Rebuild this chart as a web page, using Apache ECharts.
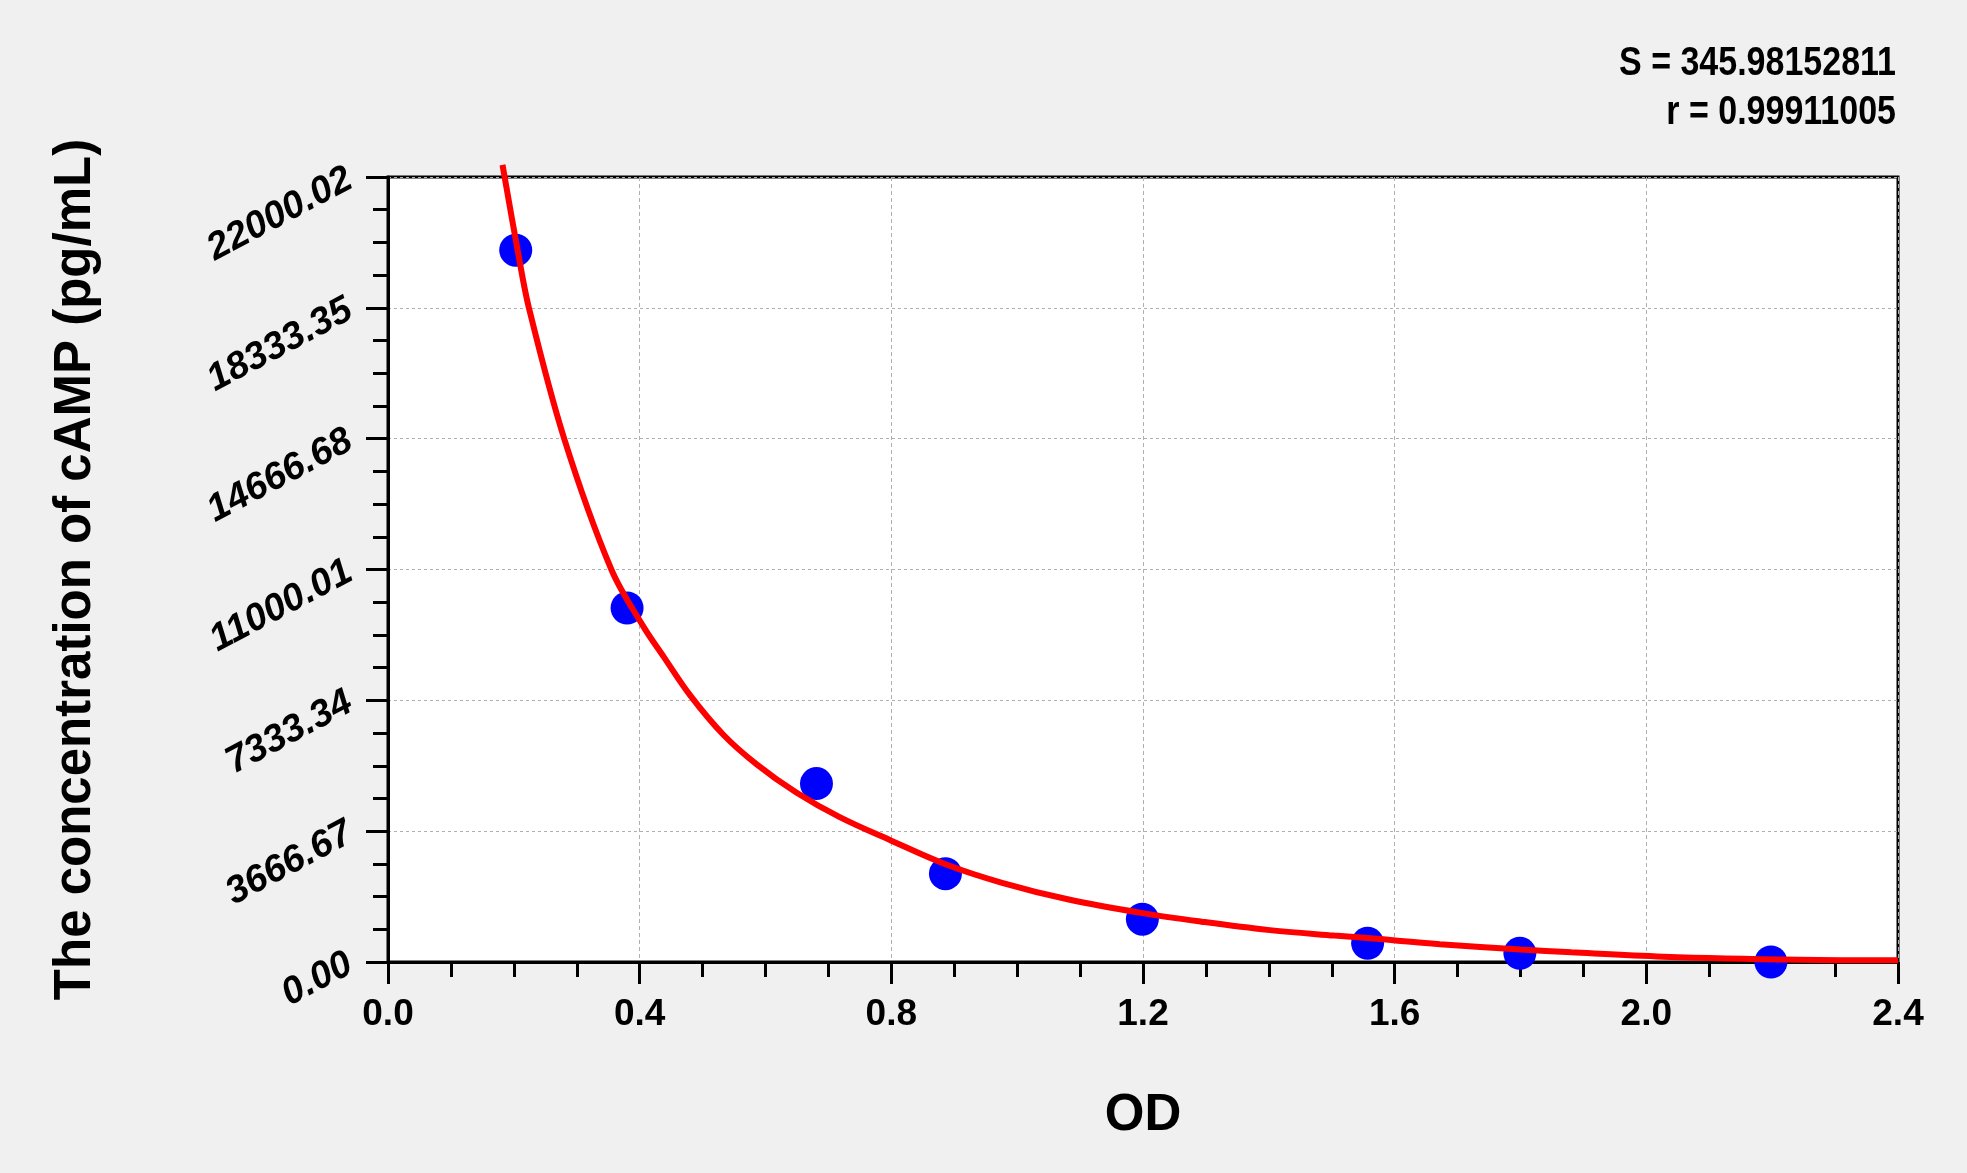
<!DOCTYPE html>
<html>
<head>
<meta charset="utf-8">
<title>cAMP standard curve</title>
<script src="https://cdn.jsdelivr.net/npm/echarts@6/dist/echarts.min.js"></script>
<style>
    html, body { margin: 0; padding: 0; background: #f0f0f0; }
    #chart { width: 1967px; height: 1173px; }
</style>
</head>
<body>
<div id="chart"></div>
<script>
// standards (OD, pg/mL)
const stdOD = [0.203, 0.38, 0.681, 0.886, 1.199, 1.557, 1.799, 2.198]
const stdConc = [19950, 9920, 5000, 2476, 1200, 524, 244, 0]

// fitted curve, sampled along the red line
const fitOD = [0.182, 0.206, 0.224, 0.28, 0.355, 0.406, 0.438, 0.48, 0.533, 0.586, 0.649, 0.718, 0.8, 0.886, 0.976, 1.082, 1.199, 1.293, 1.398, 1.504, 1.557, 1.672, 1.8, 1.881, 2.027, 2.243, 2.4]
const fitConc = [22340, 19950, 18330, 14670, 11000, 9400, 8560, 7480, 6370, 5540, 4750, 4060, 3400, 2740, 2220, 1750, 1370, 1130, 900, 740, 670, 500, 350, 270, 150, 65, 50]

const yTicks = ['0.00', '3666.67', '7333.34', '11000.01', '14666.68', '18333.35', '22000.02']
const xTicks = ['0.0', '0.4', '0.8', '1.2', '1.6', '2.0', '2.4']
const statS = 'S = 345.98152811'
const statR = 'r = 0.99911005'

const font = 'Liberation Sans, Arial, sans-serif'
const yStep = 3666.67

const chart = echarts.init(document.getElementById('chart'))

const option = {
    backgroundColor: '#f0f0f0',
    animation: false,
    grid: {
        left: 388,
        right: 69,
        top: 177,
        bottom: 211,
        show: true,
        backgroundColor: '#ffffff',
        borderColor: '#000000',
        borderWidth: 3,
    },
    xAxis: {
        type: 'value',
        min: 0,
        max: 2.4,
        interval: 0.4,
        name: 'OD',
        nameLocation: 'middle',
        nameGap: 128,
        nameTextStyle: { fontFamily: font, fontWeight: 'bold', fontSize: 51, color: '#000' },
        axisLine: { show: true, lineStyle: { color: '#000', width: 3 } },
        axisTick: { show: true, inside: false, length: 22, lineStyle: { color: '#000', width: 3 } },
        minorTick: { show: true, splitNumber: 4, length: 15, lineStyle: { color: '#000', width: 3 } },
        axisLabel: {
            margin: 34,
            fontFamily: font,
            fontWeight: 'bold',
            fontSize: 37,
            color: '#000',
            formatter: (v) => xTicks[Math.round(v / 0.4)] || v.toFixed(1),
        },
        splitLine: { show: true, lineStyle: { color: '#b0b0b0', width: 1, type: [4, 3] } },
    },
    yAxis: {
        type: 'value',
        min: 0,
        max: 22000.02,
        interval: yStep,
        name: 'The concentration of cAMP (pg/mL)',
        nameLocation: 'middle',
        nameGap: 287,
        nameRotate: 90,
        nameTextStyle: { fontFamily: font, fontWeight: 'bold', fontSize: 51, color: '#000' },
        axisLine: { show: true, lineStyle: { color: '#000', width: 3 } },
        axisTick: { show: true, inside: false, length: 22, lineStyle: { color: '#000', width: 3 } },
        minorTick: { show: true, splitNumber: 4, length: 15, lineStyle: { color: '#000', width: 3 } },
        axisLabel: {
            margin: 38,
            rotate: 28,
            fontFamily: font,
            fontWeight: 'bold',
            fontStyle: 'italic',
            fontSize: 38,
            color: '#000',
            formatter: (v) => yTicks[Math.round(v / yStep)] || v.toFixed(2),
        },
        splitLine: { show: true, lineStyle: { color: '#b0b0b0', width: 1, type: [3, 3] } },
    },
    // fit statistics, right-aligned over the plot, a bit condensed like the original
    graphic: [
        {
            type: 'text',
            x: 1896,
            y: 64,
            scaleX: 0.85,
            style: { text: statS, align: 'right', verticalAlign: 'middle', fontFamily: font, fontWeight: 'bold', fontSize: 40, fill: '#000' },
        },
        {
            type: 'text',
            x: 1896,
            y: 113,
            scaleX: 0.85,
            style: { text: statR, align: 'right', verticalAlign: 'middle', fontFamily: font, fontWeight: 'bold', fontSize: 40, fill: '#000' },
        },
    ],
    series: [
        {
            name: 'standards',
            type: 'scatter',
            symbol: 'circle',
            symbolSize: 33,
            itemStyle: { color: '#0000ff', opacity: 1 },
            data: stdOD.map((x, i) => [x, stdConc[i]]),
            z: 2,
        },
        {
            name: 'fit',
            type: 'line',
            smooth: 0.35,
            showSymbol: false,
            clip: false,
            lineStyle: { color: '#ff0000', width: 6 },
            data: fitOD.map((x, i) => [x, fitConc[i]]),
            z: 3,
        },
    ],
}

chart.setOption(option)
</script>
</body>
</html>
